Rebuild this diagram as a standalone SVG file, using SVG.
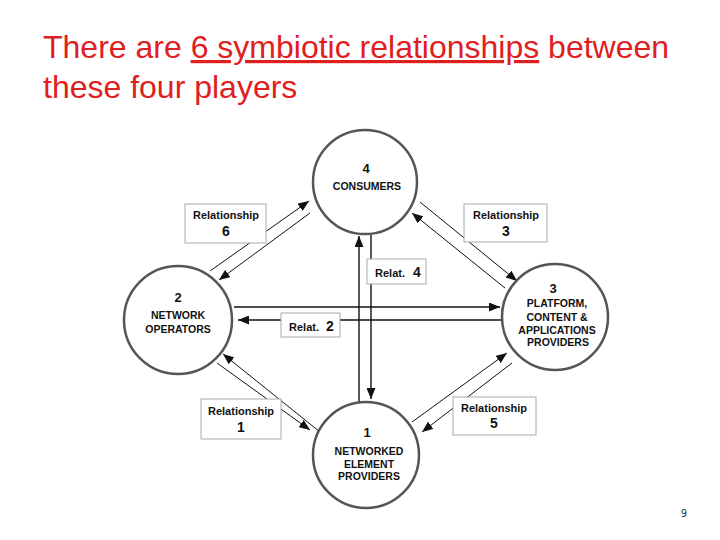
<svg xmlns="http://www.w3.org/2000/svg" width="720" height="540" viewBox="0 0 720 540">
<style>
.title{font-family:"Liberation Sans",Arial,sans-serif;font-size:32px;fill:#e0201f}
.node circle{fill:#fff;stroke:#555;stroke-width:2.5}
.nt{font-family:"Liberation Sans",Arial,sans-serif;font-weight:bold;font-size:10.5px;fill:#111;text-anchor:middle}
.nn{font-family:"Liberation Sans",Arial,sans-serif;font-weight:bold;font-size:13px;fill:#111;text-anchor:middle}
.lbl rect{fill:#fff;stroke:#aaa;stroke-width:1}
.lt{font-family:"Liberation Sans",Arial,sans-serif;font-weight:bold;font-size:11px;fill:#111;text-anchor:middle}
.ln{font-family:"Liberation Sans",Arial,sans-serif;font-weight:bold;font-size:14px;fill:#111;text-anchor:middle}
.conn line{stroke:#111;stroke-width:1;marker-end:url(#ah)}
.conn line.s{stroke-width:1.4}
</style>
<defs>
<marker id="ah" markerUnits="userSpaceOnUse" markerWidth="11" markerHeight="9" refX="11" refY="4.5" orient="auto">
<path d="M0,0 L11,4.5 L0,9 z" fill="#111"/>
</marker>
</defs>
<rect width="720" height="540" fill="#fff"/>
<text class="title" x="43" y="58">There are <tspan text-decoration="underline">6 symbiotic relationships</tspan> between</text>
<text class="title" x="43" y="98">these four players</text>

<g id="connectors" class="conn">
<line x1="210" y1="271" x2="309" y2="201"/>
<line x1="310" y1="213" x2="219" y2="280"/>
<line x1="420" y1="202" x2="517" y2="281"/>
<line x1="505" y1="288" x2="412" y2="213"/>
<line x1="320" y1="432" x2="223" y2="354"/>
<line x1="217" y1="363" x2="310" y2="430"/>
<line x1="412" y1="422" x2="507" y2="353"/>
<line x1="512" y1="363" x2="422" y2="432"/>
<line class="s" x1="359" y1="402" x2="359" y2="236"/>
<line class="s" x1="371" y1="235" x2="371" y2="399"/>
<line class="s" x1="234" y1="307" x2="500" y2="307"/>
<line class="s" x1="503" y1="320" x2="238" y2="320"/>
</g>

<g id="consumers" class="node">
<circle cx="365" cy="182" r="52"/>
<text class="nn" x="366" y="173">4</text>
<text class="nt" x="367" y="190">CONSUMERS</text>
</g>
<g id="network-operators" class="node">
<circle cx="178" cy="320" r="54"/>
<text class="nn" x="178" y="302">2</text>
<text class="nt" x="178" y="319">NETWORK</text>
<text class="nt" x="178" y="333">OPERATORS</text>
</g>
<g id="platform" class="node">
<circle cx="555" cy="317" r="53"/>
<text class="nn" x="553" y="293">3</text>
<text class="nt" x="557" y="307">PLATFORM,</text>
<text class="nt" x="557" y="321">CONTENT &amp;</text>
<text class="nt" x="557" y="334">APPLICATIONS</text>
<text class="nt" x="558" y="346">PROVIDERS</text>
</g>
<g id="networked-element-providers" class="node">
<circle cx="366" cy="455" r="53"/>
<text class="nn" x="367" y="437">1</text>
<text class="nt" x="369" y="455">NETWORKED</text>
<text class="nt" x="369" y="468">ELEMENT</text>
<text class="nt" x="369" y="480">PROVIDERS</text>
</g>

<g id="rel6" class="lbl">
<rect x="185" y="204" width="81" height="39"/>
<text class="lt" x="226" y="219">Relationship</text>
<text class="ln" x="226" y="236">6</text>
</g>
<g id="rel3" class="lbl">
<rect x="464" y="204" width="83" height="38"/>
<text class="lt" x="506" y="219">Relationship</text>
<text class="ln" x="506" y="236">3</text>
</g>
<g id="rel1" class="lbl">
<rect x="201" y="399" width="80" height="40"/>
<text class="lt" x="241" y="415">Relationship</text>
<text class="ln" x="241" y="432">1</text>
</g>
<g id="rel5" class="lbl">
<rect x="453" y="397" width="83" height="38"/>
<text class="lt" x="494" y="412">Relationship</text>
<text class="ln" x="494" y="428">5</text>
</g>
<g id="rel4" class="lbl">
<rect x="367" y="259" width="59" height="25"/>
<text class="lt" x="390" y="277">Relat.</text>
<text class="ln" x="417" y="277">4</text>
</g>
<g id="rel2" class="lbl">
<rect x="281" y="313" width="59" height="24"/>
<text class="lt" x="304" y="331">Relat.</text>
<text class="ln" x="330" y="331">2</text>
</g>

<text x="684" y="517" font-family="DejaVu Sans, sans-serif" font-size="10" fill="#333" text-anchor="middle">9</text>
</svg>
